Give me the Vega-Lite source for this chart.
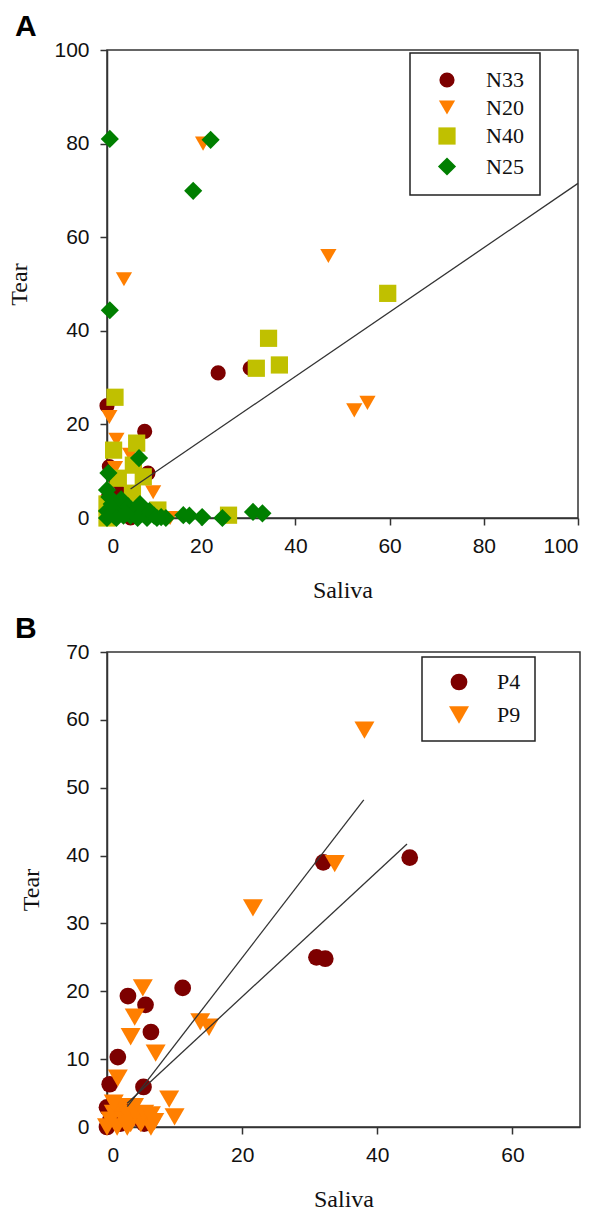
{
  "$schema": "https://vega.github.io/schema/vega-lite/v6.json",
  "background": "white",
  "padding": {"left": 7, "top": 11, "right": 5, "bottom": 5},
  "bounds": "flush",
  "spacing": 134,
  "config": {
    "view": {"stroke": "#333", "strokeWidth": 1.5},
    "axis": {"grid": false, "domainColor": "#333", "domainWidth": 1.5, "tickColor": "#333", "tickWidth": 1.5, "tickSize": 7, "labelFont": "Liberation Sans", "labelFontSize": 21, "labelColor": "#111", "titleFont": "Liberation Serif", "titleFontSize": 24, "titleFontWeight": "normal", "titleColor": "#111"},
    "axisX": {"labelPadding": 10, "titlePadding": 22},
    "axisY": {"labelPadding": 11, "titlePadding": 22},
    "legend": {"orient": "none", "title": null, "strokeColor": "#222", "strokeWidth": 1.5, "fillColor": "white", "labelFont": "Liberation Serif", "labelFontSize": 22, "labelColor": "#111", "symbolOpacity": 1},
    "title": {"font": "Liberation Sans", "fontSize": 30, "fontWeight": "bold", "anchor": "start", "frame": "group", "color": "#000"}
  },
  "datasets": {
    "a": [
      {"s": "N33", "x": 0, "y": 24}, {"s": "N33", "x": 8, "y": 18.5}, {"s": "N33", "x": 23.6, "y": 31}, {"s": "N33", "x": 30.4, "y": 32}, {"s": "N33", "x": 0.5, "y": 11}, {"s": "N33", "x": 8.7, "y": 9.6}, {"s": "N33", "x": 2.8, "y": 5.3}, {"s": "N33", "x": 7, "y": 2}, {"s": "N33", "x": 1, "y": 2}, {"s": "N33", "x": 3, "y": 1}, {"s": "N33", "x": 0, "y": 4}, {"s": "N33", "x": 5, "y": 0}, {"s": "N33", "x": 2, "y": 8},
      {"s": "N20", "x": 20.4, "y": 80}, {"s": "N20", "x": 3.6, "y": 51}, {"s": "N20", "x": 47, "y": 56}, {"s": "N20", "x": 52.5, "y": 23}, {"s": "N20", "x": 55.3, "y": 24.6}, {"s": "N20", "x": 0.5, "y": 21.6}, {"s": "N20", "x": 2, "y": 16.7}, {"s": "N20", "x": 4.9, "y": 13.5}, {"s": "N20", "x": 9.8, "y": 5.5}, {"s": "N20", "x": 1.7, "y": 10.7}, {"s": "N20", "x": 13.4, "y": 0}, {"s": "N20", "x": 4, "y": 3}, {"s": "N20", "x": 0, "y": 1},
      {"s": "N40", "x": 59.6, "y": 48}, {"s": "N40", "x": 34.3, "y": 38.4}, {"s": "N40", "x": 36.6, "y": 32.7}, {"s": "N40", "x": 31.7, "y": 32}, {"s": "N40", "x": 1.7, "y": 25.8}, {"s": "N40", "x": 1.4, "y": 14.5}, {"s": "N40", "x": 6.3, "y": 16}, {"s": "N40", "x": 2.4, "y": 8.5}, {"s": "N40", "x": 7.7, "y": 8.8}, {"s": "N40", "x": 5.6, "y": 11.3}, {"s": "N40", "x": 5.4, "y": 5.3}, {"s": "N40", "x": 10.8, "y": 1.7}, {"s": "N40", "x": 25.8, "y": 0.6}, {"s": "N40", "x": 0, "y": 0}, {"s": "N40", "x": 0, "y": 3},
      {"s": "N25", "x": 0.6, "y": 81}, {"s": "N25", "x": 22, "y": 80.8}, {"s": "N25", "x": 18.3, "y": 69.9}, {"s": "N25", "x": 0.6, "y": 44.4}, {"s": "N25", "x": 6.8, "y": 12.8}, {"s": "N25", "x": 0.3, "y": 9.6},
      {"s": "N25", "x": 0, "y": 6}, {"s": "N25", "x": 0.5, "y": 4.5}, {"s": "N25", "x": 1, "y": 3}, {"s": "N25", "x": 0, "y": 1.5}, {"s": "N25", "x": 1.5, "y": 0.5}, {"s": "N25", "x": 2.5, "y": 2}, {"s": "N25", "x": 3, "y": 4}, {"s": "N25", "x": 3.5, "y": 0.5}, {"s": "N25", "x": 4.5, "y": 2.5}, {"s": "N25", "x": 5, "y": 0.5}, {"s": "N25", "x": 6, "y": 1.5}, {"s": "N25", "x": 6.5, "y": 0}, {"s": "N25", "x": 7.5, "y": 1}, {"s": "N25", "x": 8.5, "y": 0}, {"s": "N25", "x": 9, "y": 1.5}, {"s": "N25", "x": 10, "y": 0.5}, {"s": "N25", "x": 11.5, "y": 0.2}, {"s": "N25", "x": 12.5, "y": 0}, {"s": "N25", "x": 2, "y": 0}, {"s": "N25", "x": 4, "y": 1}, {"s": "N25", "x": 0, "y": 0}, {"s": "N25", "x": 7, "y": 3},
      {"s": "N25", "x": 16.2, "y": 0.6}, {"s": "N25", "x": 17.5, "y": 0.5}, {"s": "N25", "x": 20.2, "y": 0.2}, {"s": "N25", "x": 24.5, "y": 0}, {"s": "N25", "x": 31, "y": 1.3}, {"s": "N25", "x": 33, "y": 1}, {"s": "N25", "x": 10.6, "y": 0}
    ],
    "aline": [
      {"g": "fit", "x": 5, "y": 6.2}, {"g": "fit", "x": 100, "y": 71.5}
    ],
    "b": [
      {"s": "P4", "x": 44.8, "y": 39.7}, {"s": "P4", "x": 32, "y": 39}, {"s": "P4", "x": 31, "y": 25}, {"s": "P4", "x": 32.3, "y": 24.8}, {"s": "P4", "x": 11.2, "y": 20.5}, {"s": "P4", "x": 3.1, "y": 19.3}, {"s": "P4", "x": 5.7, "y": 18}, {"s": "P4", "x": 6.5, "y": 14}, {"s": "P4", "x": 1.6, "y": 10.3}, {"s": "P4", "x": 0.4, "y": 6.3}, {"s": "P4", "x": 5.4, "y": 5.9}, {"s": "P4", "x": 0, "y": 2.9}, {"s": "P4", "x": 4.6, "y": 1.3}, {"s": "P4", "x": 1, "y": 2.5}, {"s": "P4", "x": 0.5, "y": 1}, {"s": "P4", "x": 5.5, "y": 0.5}, {"s": "P4", "x": 3.5, "y": 3}, {"s": "P4", "x": 0, "y": 0}, {"s": "P4", "x": 2, "y": 0.5},
      {"s": "P9", "x": 38.1, "y": 58.5}, {"s": "P9", "x": 33.7, "y": 38.8}, {"s": "P9", "x": 21.6, "y": 32.3}, {"s": "P9", "x": 13.8, "y": 15.5}, {"s": "P9", "x": 15.1, "y": 14.7}, {"s": "P9", "x": 5.3, "y": 20.5}, {"s": "P9", "x": 4.1, "y": 16.2}, {"s": "P9", "x": 3.5, "y": 13.3}, {"s": "P9", "x": 7.2, "y": 10.9}, {"s": "P9", "x": 1.6, "y": 7.2}, {"s": "P9", "x": 9.2, "y": 4.1}, {"s": "P9", "x": 10, "y": 1.5}, {"s": "P9", "x": 6.5, "y": 0}, {"s": "P9", "x": 0, "y": 0}, {"s": "P9", "x": 0.5, "y": 1}, {"s": "P9", "x": 1, "y": 2}, {"s": "P9", "x": 1.5, "y": 0}, {"s": "P9", "x": 2, "y": 3}, {"s": "P9", "x": 2.5, "y": 1}, {"s": "P9", "x": 3, "y": 2}, {"s": "P9", "x": 3.5, "y": 0.5}, {"s": "P9", "x": 4, "y": 3}, {"s": "P9", "x": 4.5, "y": 1.5}, {"s": "P9", "x": 5, "y": 0.5}, {"s": "P9", "x": 5.5, "y": 2}, {"s": "P9", "x": 6.5, "y": 1.8}, {"s": "P9", "x": 7, "y": 0.8}, {"s": "P9", "x": 1, "y": 3.5}, {"s": "P9", "x": 3, "y": 0}
    ],
    "bline": [
      {"g": "P9", "x": 3, "y": 3}, {"g": "P9", "x": 38, "y": 48.2},
      {"g": "P4", "x": 3, "y": 3.5}, {"g": "P4", "x": 44.4, "y": 41.7}
    ]
  },
  "vconcat": [
    {
      "title": {"text": "A", "dx": -92, "offset": -3},
      "width": 471,
      "height": 468,
      "layer": [
        {
          "data": {"name": "a"},
          "mark": {"type": "point", "filled": true, "opacity": 1},
          "encoding": {
            "x": {"field": "x", "type": "quantitative", "scale": {"domain": [0, 100], "nice": false, "zero": false}, "axis": {"values": [0, 20, 40, 60, 80, 100], "title": "Saliva"}},
            "y": {"field": "y", "type": "quantitative", "scale": {"domain": [0, 100], "nice": false, "zero": false}, "axis": {"values": [0, 20, 40, 60, 80, 100], "title": "Tear"}},
            "color": {"field": "s", "type": "nominal", "scale": {"domain": ["N33", "N20", "N40", "N25"], "range": ["#7d0000", "#ff7f00", "#c0c000", "#007f00"]}, "legend": {"legendX": 303, "legendY": 3, "padding": 16, "symbolOffset": 10, "labelOffset": 28, "rowPadding": 5.5, "symbolSize": 260}},
            "shape": {"field": "s", "type": "nominal", "scale": {"domain": ["N33", "N20", "N40", "N25"], "range": ["circle", "triangle-down", "square", "diamond"]}, "legend": {"legendX": 303, "legendY": 3, "padding": 16, "symbolOffset": 10, "labelOffset": 28, "rowPadding": 5.5, "symbolSize": 260}},
            "size": {"field": "s", "type": "nominal", "scale": {"domain": ["N33", "N20", "N40", "N25"], "range": [230, 330, 250, 380]}, "legend": null}
          }
        },
        {
          "data": {"name": "aline"},
          "mark": {"type": "line", "color": "#333", "strokeWidth": 1.3},
          "encoding": {
            "x": {"field": "x", "type": "quantitative"},
            "y": {"field": "y", "type": "quantitative"},
            "detail": {"field": "g", "type": "nominal"}
          }
        }
      ]
    },
    {
      "title": {"text": "B", "dx": -92, "offset": -3},
      "width": 473,
      "height": 475,
      "layer": [
        {
          "data": {"name": "b"},
          "mark": {"type": "point", "filled": true, "opacity": 1},
          "encoding": {
            "x": {"field": "x", "type": "quantitative", "scale": {"domain": [0, 70], "nice": false, "zero": false}, "axis": {"values": [0, 20, 40, 60], "title": "Saliva"}},
            "y": {"field": "y", "type": "quantitative", "scale": {"domain": [0, 70], "nice": false, "zero": false}, "axis": {"values": [0, 10, 20, 30, 40, 50, 60, 70], "title": "Tear"}},
            "color": {"field": "s", "type": "nominal", "scale": {"domain": ["P4", "P9"], "range": ["#7d0000", "#ff7f00"]}, "legend": {"legendX": 315, "legendY": 5, "padding": 14, "symbolOffset": 12, "labelOffset": 27, "rowPadding": 9, "symbolSize": 320}},
            "shape": {"field": "s", "type": "nominal", "scale": {"domain": ["P4", "P9"], "range": ["circle", "triangle-down"]}, "legend": {"legendX": 315, "legendY": 5, "padding": 14, "symbolOffset": 12, "labelOffset": 27, "rowPadding": 9, "symbolSize": 320}},
            "size": {"field": "s", "type": "nominal", "scale": {"domain": ["P4", "P9"], "range": [280, 400]}, "legend": null}
          }
        },
        {
          "data": {"name": "bline"},
          "mark": {"type": "line", "color": "#333", "strokeWidth": 1.3},
          "encoding": {
            "x": {"field": "x", "type": "quantitative"},
            "y": {"field": "y", "type": "quantitative"},
            "detail": {"field": "g", "type": "nominal"}
          }
        }
      ]
    }
  ],
  "resolve": {"scale": {"x": "independent", "y": "independent", "color": "independent", "shape": "independent", "size": "independent"}}
}
